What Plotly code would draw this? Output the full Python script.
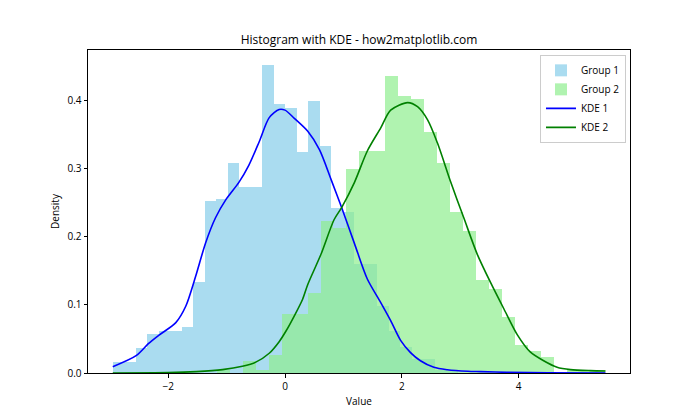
import plotly.graph_objects as go

# ---- data ----
g1_bin_start = -2.952
g1_bin_width = 0.1971
g1_density = [0.0157, 0.0157, 0.0366, 0.0571, 0.0615, 0.0615, 0.0678, 0.1338, 0.252, 0.256,
              0.3077, 0.273, 0.273, 0.4517, 0.3956, 0.389, 0.3238, 0.400, 0.334, 0.2418,
              0.236, 0.1596, 0.1596, 0.0986, 0.062, 0.0376, 0.0205, 0.0205, 0.005, 0.005]

g2_bin_start = -1.166
g2_bin_width = 0.2218
g2_density = [0.0045, 0.0, 0.018, 0.0045, 0.027, 0.0864, 0.0864, 0.117, 0.2227, 0.2125,
              0.299, 0.3267, 0.3267, 0.4356, 0.407, 0.403, 0.3535, 0.308, 0.236, 0.208,
              0.1367, 0.123, 0.082, 0.041, 0.032, 0.0234, 0.0, 0.0045, 0.0045, 0.0045]

kde1_x = [-2.95, -2.55, -2.34, -2.15, -1.87, -1.70, -1.53, -1.36, -1.19, -1.01, -0.79, -0.62,
          -0.44, -0.27, -0.10, 0.00, 0.16, 0.39, 0.59, 0.79, 0.97, 1.19, 1.41, 1.64, 1.81,
          1.98, 2.15, 2.32, 2.55, 2.78, 3.13, 3.35, 3.8, 4.5, 5.49]
kde1_y = [0.0092, 0.0254, 0.043, 0.056, 0.074, 0.098, 0.142, 0.191, 0.228, 0.255, 0.280, 0.305,
          0.340, 0.375, 0.387, 0.386, 0.374, 0.355, 0.328, 0.284, 0.243, 0.190, 0.138, 0.1035, 0.077,
          0.048, 0.030, 0.018, 0.0083, 0.0048, 0.0025, 0.002, 0.001, 0.0003, 0.0]

kde2_x = [-2.95, -2.0, -1.52, -1.07, -0.73, -0.50, -0.27, -0.10, 0.02, 0.16, 0.30, 0.39, 0.62,
          0.84, 0.97, 1.19, 1.41, 1.64, 1.81, 2.10, 2.27, 2.44, 2.61, 2.84, 3.07, 3.29, 3.52,
          3.75, 3.98, 4.20, 4.43, 4.66, 4.89, 5.23, 5.49]
kde2_y = [0.0, 0.0005, 0.002, 0.005, 0.010, 0.016, 0.029, 0.046, 0.062, 0.084, 0.108, 0.130, 0.175,
          0.225, 0.243, 0.280, 0.326, 0.360, 0.386, 0.397, 0.391, 0.372, 0.338, 0.280, 0.226, 0.175, 0.133,
          0.094, 0.056, 0.031, 0.018, 0.0085, 0.005, 0.0035, 0.003]

x_tick_vals = [-2, 0, 2, 4]
x_tick_text = ["\u22122", "0", "2", "4"]
y_tick_vals = [0.0, 0.1, 0.2, 0.3, 0.4]
y_tick_text = ["0.0", "0.1", "0.2", "0.3", "0.4"]

title_text = "Histogram with KDE - how2matplotlib.com"

# ---- build ----
g1_centers = [g1_bin_start + (i + 0.5) * g1_bin_width for i in range(len(g1_density))]
g2_centers = [g2_bin_start + (i + 0.5) * g2_bin_width for i in range(len(g2_density))]

FONT = "Open Sans"
PAGE_OFFSET = 8  # browser default body margin

fig = go.Figure()
fig.add_trace(go.Bar(x=g1_centers, y=g1_density, width=g1_bin_width, name="Group 1",
                     marker=dict(color="#87CEEB", line=dict(width=0)), opacity=0.7))
fig.add_trace(go.Bar(x=g2_centers, y=g2_density, width=g2_bin_width, name="Group 2",
                     marker=dict(color="#90EE90", line=dict(width=0)), opacity=0.7))
fig.add_trace(go.Scatter(x=kde1_x, y=kde1_y, mode="lines", name="KDE 1",
                         line=dict(color="blue", width=1.6, shape="spline", smoothing=0.8)))
fig.add_trace(go.Scatter(x=kde2_x, y=kde2_y, mode="lines", name="KDE 2",
                         line=dict(color="green", width=1.6, shape="spline", smoothing=0.8)))

axis_common = dict(showline=True, linecolor="black", linewidth=1, mirror=True,
                   ticks="outside", ticklen=3.5, tickcolor="black", showgrid=False,
                   zeroline=False, tickfont=dict(size=10, color="black", family=FONT))

fig.update_layout(
    width=700, height=420,
    margin=dict(l=88 - PAGE_OFFSET, r=70 + PAGE_OFFSET, t=50 - PAGE_OFFSET, b=47 + PAGE_OFFSET,
                autoexpand=False),
    paper_bgcolor="white", plot_bgcolor="white",
    barmode="overlay", bargap=0,
    font=dict(family=FONT, color="black"),
    title=dict(text=title_text, x=0.5, xref="paper", xanchor="center",
               y=1 - (40 - PAGE_OFFSET) / 420, yanchor="middle", yref="container",
               font=dict(size=12, family=FONT, color="black")),
    xaxis=dict(range=[-3.374, 5.909], tickvals=x_tick_vals, ticktext=x_tick_text,
               title=dict(text="Value", font=dict(size=10, family=FONT), standoff=6),
               **axis_common),
    yaxis=dict(range=[0, 0.4743], tickvals=y_tick_vals, ticktext=y_tick_text,
               title=dict(text="Density", font=dict(size=10, family=FONT), standoff=5),
               **axis_common),
    legend=dict(x=0.9926, xanchor="right", y=0.985, yanchor="top",
                bgcolor="white", bordercolor="#cccccc", borderwidth=1,
                font=dict(size=10, family=FONT, color="black"),
                tracegroupgap=0, itemwidth=30),
    showlegend=True,
)

fig.write_html("out.html", config={"displayModeBar": False})
